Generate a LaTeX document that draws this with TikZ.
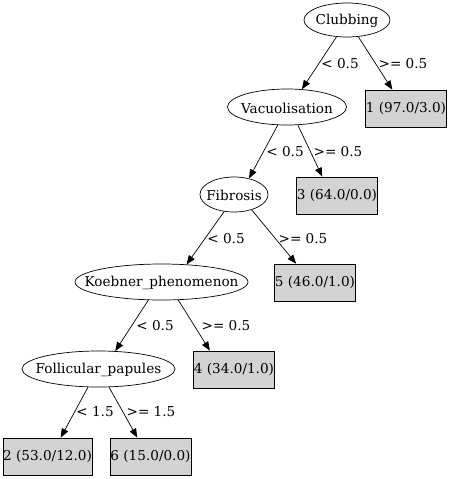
\documentclass[tikz,border=0pt]{standalone}
\usepackage{fontspec}
\setmainfont{DejaVu Serif}
\usetikzlibrary{shapes.geometric,arrows.meta}
\definecolor{leafgray}{HTML}{D3D3D3}
\begin{document}
\begin{tikzpicture}[x=1pt,y=-1pt,
  every node/.style={font=\fontsize{13.6}{16}\selectfont},
  split/.style={draw=black,ellipse,inner sep=0pt,line width=0.7pt},
  stext/.style={yshift=-1.2pt},
  leaf/.style={draw=black,fill=leafgray,rectangle,inner sep=0pt,minimum width=81pt,minimum height=37pt,line width=0.7pt},
  edge/.style={draw=black,line width=0.7pt,-{Triangle[length=9pt,width=7pt]}},
  elab/.style={inner sep=0pt}]
\useasboundingbox (0,0) rectangle (451,479);
\node[split,minimum width=86pt,minimum height=34pt] (club) at (347,20) {};
\node[stext] (clubt) at (club) {Clubbing};
\node[split,minimum width=119pt,minimum height=36pt] (vac) at (287,107) {};
\node[stext] (vact) at (vac) {Vacuolisation};
\node[leaf] (b1) at (406,108.5) {1 (97.0/3.0)};
\node[split,minimum width=68pt,minimum height=35pt] (fib) at (234,194.5) {};
\node[stext] (fibt) at (fib) {Fibrosis};
\node[leaf] (b3) at (337,195.5) {3 (64.0/0.0)};
\node[split,minimum width=173pt,minimum height=36pt] (koe) at (161.5,282) {};
\node[stext] (koet) at (koe) {Koebner\_phenomenon};
\node[leaf] (b5) at (315,282.5) {5 (46.0/1.0)};
\node[split,minimum width=153pt,minimum height=36pt] (fol) at (98.5,369) {};
\node[stext] (folt) at (fol) {Follicular\_papules};
\node[leaf] (b4) at (234,369.5) {4 (34.0/1.0)};
\node[leaf,minimum width=89pt] (b2) at (47.5,456.5) {2 (53.0/12.0)};
\node[leaf] (b6) at (150.5,456.5) {6 (15.0/0.0)};

\draw[edge] (club.238) -- (vac.50);
\draw[edge] (club.304) -- (b1.126);
\draw[edge] (vac.243) -- (fib.47);
\draw[edge] (vac.301) -- (b3.128);
\draw[edge] (fib.240) -- (koe.35);
\draw[edge] (fib.319) -- (b5.135);
\draw[edge] (koe.234) -- (fol.47);
\draw[edge] (koe.313) -- (b4.142);
\draw[edge] (fol.240) -- (b2.55);
\draw[edge] (fol.300) -- (b6.125);

\node[elab] (l1) at (340,64) {< 0.5};
\node[elab] (l2) at (403,64) {>= 0.5};
\node[elab] (l3) at (285,152) {< 0.5};
\node[elab] (l4) at (338,152) {>= 0.5};
\node[elab] (l5) at (226,239) {< 0.5};
\node[elab] (l6) at (303,239) {>= 0.5};
\node[elab] (l7) at (155,326) {< 0.5};
\node[elab] (l8) at (226,326) {>= 0.5};
\node[elab] (l9) at (95,412) {< 1.5};
\node[elab] (l10) at (151,412) {>= 1.5};
\end{tikzpicture}
\end{document}
